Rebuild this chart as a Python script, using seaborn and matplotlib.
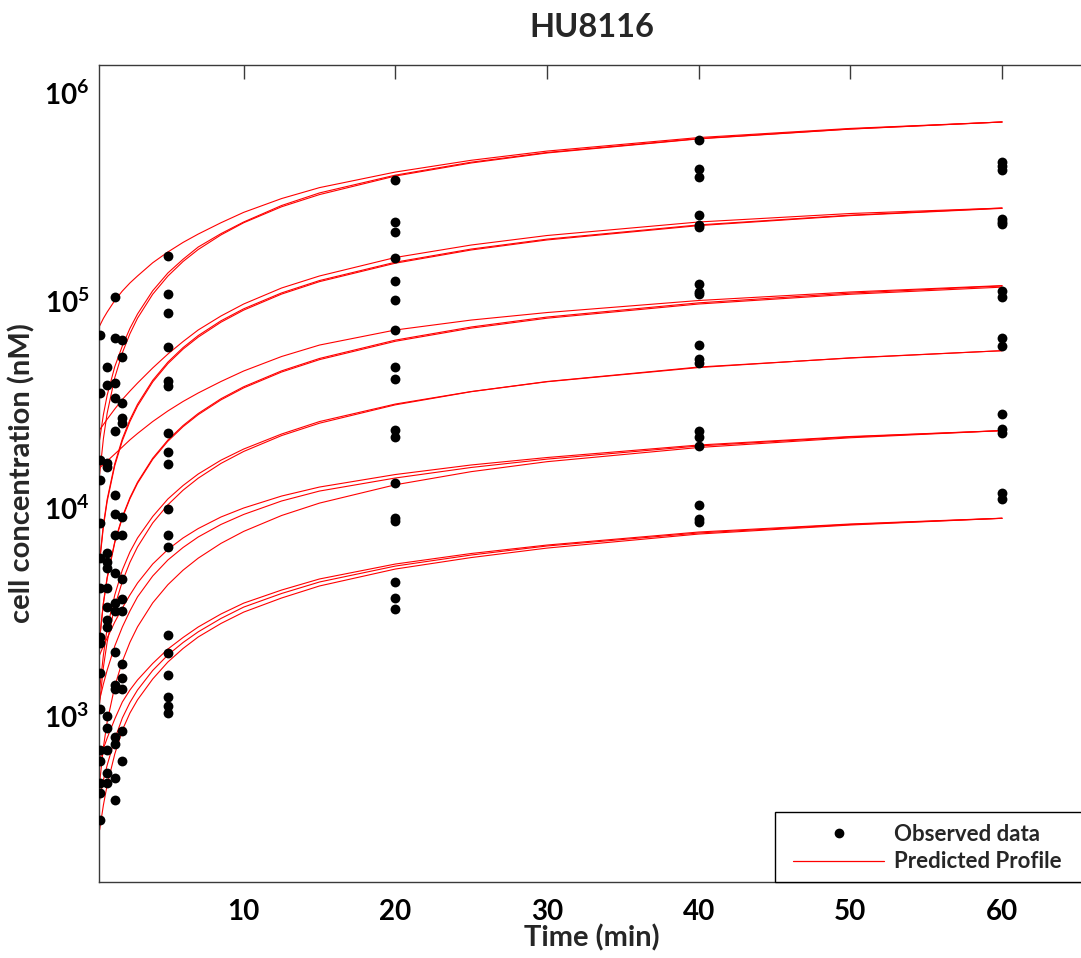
import matplotlib
matplotlib.use("Agg")
import matplotlib.pyplot as plt
import numpy as np
import pandas as pd
import seaborn as sns
from matplotlib.lines import Line2D
from matplotlib.patches import Rectangle
from matplotlib.ticker import FixedLocator, LogLocator, NullFormatter

sns.set_theme(style="white")
plt.rcParams['font.family'] = ['Lato', 'DejaVu Sans']
plt.rcParams['font.weight'] = 'bold'
plt.rcParams['mathtext.fontset'] = 'custom'
plt.rcParams['mathtext.rm'] = 'Lato:bold'
plt.rcParams['mathtext.it'] = 'Lato:bold'
plt.rcParams['mathtext.bf'] = 'Lato:bold'

# ---- observed concentrations (nM) at each sampling time (min) ----
obs_t0_5 = [6.82e4, 3.57e4, 1.70e4, 1.36e4, 8.44e3, 5.72e3, 4.10e3, 2.40e3,
            2.23e3, 1.61e3, 1.07e3, 682, 604, 471, 422, 314]
obs_t1 = [4.80e4, 3.91e4, 1.65e4, 1.57e4, 6.05e3, 5.51e3, 5.12e3, 4.10e3,
          3.34e3, 2.89e3, 2.66e3, 998, 868, 682, 526, 471]
obs_t1_5 = [1.036e5, 6.57e4, 4.02e4, 3.38e4, 2.36e4, 1.155e4, 9.36e3, 7.41e3,
            4.85e3, 3.50e3, 3.20e3, 2.03e3, 1.40e3, 1.34e3, 790, 729, 498, 392]
obs_t2 = [6.45e4, 5.32e4, 3.22e4, 2.71e4, 2.56e4, 9.02e3, 7.41e3, 4.55e3,
          3.64e3, 3.19e3, 1.765e3, 1.51e3, 1.34e3, 842, 604]
obs_t5 = [1.64e5, 1.075e5, 8.73e4, 5.95e4, 4.11e4, 3.89e4, 2.31e4, 1.855e4,
          1.63e4, 9.86e3, 7.44e3, 6.51e3, 2.43e3, 2.01e3, 1.57e3, 1.23e3,
          1.11e3, 1.025e3]
obs_t20 = [3.81e5, 2.40e5, 2.15e5, 1.61e5, 1.24e5, 1.006e5, 7.21e4, 4.80e4,
           4.17e4, 2.38e4, 2.19e4, 1.32e4, 8.92e3, 8.69e3, 4.42e3, 3.67e3,
           3.26e3]
obs_t40 = [5.94e5, 4.30e5, 3.93e5, 2.58e5, 2.30e5, 2.25e5, 1.20e5, 1.10e5,
           1.08e5, 6.10e4, 5.20e4, 5.00e4, 2.35e4, 2.20e4, 2.00e4, 1.03e4,
           8.90e3, 8.60e3]
obs_t60 = [4.65e5, 4.45e5, 4.25e5, 2.48e5, 2.40e5, 2.33e5, 1.11e5, 1.04e5,
           6.57e4, 6.04e4, 2.84e4, 2.39e4, 2.29e4, 1.18e4, 1.11e4]

observed = {0.5: obs_t0_5, 1: obs_t1, 1.5: obs_t1_5, 2: obs_t2,
            5: obs_t5, 20: obs_t20, 40: obs_t40, 60: obs_t60}

# ---- predicted profiles (nM) ----
profile_times = [0.5, 0.75, 1, 1.5, 2, 2.5, 3, 4, 5, 6, 7, 8.5, 10, 12.5,
                 15, 20, 25, 30, 40, 50, 60]

prof_a1 = [7.54e4, 8.2e4, 8.8e4, 1.0e5, 1.111e5, 1.215e5, 1.313e5, 1.52e5, 1.713e5, 1.905e5, 2.09e5,
           2.37e5, 2.66e5, 3.10e5, 3.50e5, 4.16e5, 4.74e5, 5.25e5, 6.10e5, 6.75e5, 7.25e5]
prof_a2 = [2.13e4, 2.82e4, 3.50e4, 4.80e4, 6.04e4, 7.34e4, 8.61e4, 1.114e5, 1.357e5, 1.58e5, 1.81e5,
           2.10e5, 2.39e5, 2.87e5, 3.30e5, 4.02e5, 4.64e5, 5.17e5, 6.03e5, 6.71e5, 7.25e5]
prof_a3 = [1.45e4, 2.16e4, 2.87e4, 4.25e4, 5.60e4, 6.92e4, 8.22e4, 1.072e5, 1.311e5, 1.541e5, 1.761e5,
           2.07e5, 2.37e5, 2.83e5, 3.24e5, 3.98e5, 4.60e5, 5.14e5, 6.01e5, 6.70e5, 7.25e5]
prof_b1 = [2.38e4, 2.525e4, 2.68e4, 3.00e4, 3.334e4, 3.66e4, 4.00e4, 4.73e4, 5.52e4, 6.34e4, 7.21e4,
           8.42e4, 9.62e4, 1.149e5, 1.313e5, 1.612e5, 1.851e5, 2.057e5, 2.39e5, 2.626e5, 2.79e5]
prof_b2 = [5.58e3, 8.32e3, 1.103e4, 1.636e4, 2.156e4, 2.665e4, 3.162e4, 4.124e4, 5.046e4, 5.929e4, 6.776e4,
           7.983e4, 9.121e4, 1.088e5, 1.248e5, 1.530e5, 1.770e5, 1.976e5, 2.314e5, 2.578e5, 2.79e5]
prof_b3 = [5.45e3, 8.13e3, 1.078e4, 1.60e4, 2.11e4, 2.61e4, 3.10e4, 4.05e4, 4.96e4, 5.83e4, 6.66e4,
           7.86e4, 8.99e4, 1.074e5, 1.233e5, 1.513e5, 1.752e5, 1.958e5, 2.296e5, 2.565e5, 2.78e5]
prof_c1 = [1.56e4, 1.62e4, 1.685e4, 1.82e4, 1.968e4, 2.13e4, 2.286e4, 2.61e4, 2.935e4, 3.261e4, 3.583e4,
           4.07e4, 4.574e4, 5.372e4, 6.10e4, 7.21e4, 8.05e4, 8.75e4, 1.0e5, 1.099e5, 1.18e5]
prof_c2 = [2.35e3, 3.50e3, 4.645e3, 6.888e3, 9.079e3, 1.122e4, 1.332e4, 1.737e4, 2.125e4, 2.497e4, 2.854e4,
           3.362e4, 3.841e4, 4.581e4, 5.257e4, 6.444e4, 7.453e4, 8.323e4, 9.744e4, 1.0856e5, 1.175e5]
prof_c3 = [2.32e3, 3.459e3, 4.585e3, 6.80e3, 8.963e3, 1.108e4, 1.315e4, 1.715e4, 2.098e4, 2.465e4, 2.817e4,
           3.319e4, 3.792e4, 4.523e4, 5.189e4, 6.361e4, 7.358e4, 8.217e4, 9.619e4, 1.0717e5, 1.16e5]
prof_d1 = [1.327e3, 1.957e3, 2.64e3, 3.81e3, 5.03e3, 6.14e3, 7.17e3, 9.10e3, 1.105e4, 1.283e4, 1.458e4,
           1.70e4, 1.924e4, 2.273e4, 2.61e4, 3.17e4, 3.642e4, 4.07e4, 4.78e4, 5.28e4, 5.73e4]
prof_d2 = [1.146e3, 1.709e3, 2.265e3, 3.359e3, 4.428e3, 5.473e3, 6.494e3, 8.471e3, 1.036e4, 1.218e4, 1.392e4,
           1.640e4, 1.873e4, 2.234e4, 2.563e4, 3.142e4, 3.635e4, 4.059e4, 4.752e4, 5.294e4, 5.73e4]
prof_e1 = [1.957e3, 2.162e3, 2.363e3, 2.822e3, 3.297e3, 3.81e3, 4.35e3, 5.37e3, 6.31e3, 7.17e3, 7.96e3,
           9.05e3, 1.0e4, 1.142e4, 1.262e4, 1.45e4, 1.612e4, 1.751e4, 2.012e4, 2.211e4, 2.36e4]
prof_e2 = [1.19e3, 1.418e3, 1.657e3, 2.162e3, 2.67e3, 3.19e3, 3.73e3, 4.70e3, 5.615e3, 6.45e3, 7.25e3,
           8.33e3, 9.31e3, 1.081e4, 1.207e4, 1.395e4, 1.568e4, 1.72e4, 1.99e4, 2.199e4, 2.36e4]
prof_e3 = [472, 704, 933, 1.383e3, 1.824e3, 2.254e3, 2.675e3, 3.489e3, 4.268e3, 5.015e3, 5.731e3,
           6.753e3, 7.715e3, 9.202e3, 1.056e4, 1.294e4, 1.497e4, 1.672e4, 1.957e4, 2.18e4, 2.36e4]
prof_f1 = [610, 693, 779, 962, 1.162e3, 1.327e3, 1.483e3, 1.781e3, 2.09e3, 2.376e3, 2.67e3,
           3.084e3, 3.48e3, 4.024e3, 4.55e3, 5.37e3, 6.036e3, 6.63e3, 7.66e3, 8.375e3, 8.93e3]
prof_f2 = [392, 489, 577, 770, 973, 1.155e3, 1.327e3, 1.648e3, 1.957e3, 2.247e3, 2.53e3,
           2.935e3, 3.33e3, 3.873e3, 4.40e3, 5.25e3, 5.935e3, 6.56e3, 7.58e3, 8.33e3, 8.92e3]
prof_f3 = [281, 370, 463, 652, 851, 1.028e3, 1.19e3, 1.499e3, 1.81e3, 2.103e3, 2.39e3,
           2.776e3, 3.15e3, 3.684e3, 4.21e3, 5.08e3, 5.77e3, 6.41e3, 7.49e3, 8.28e3, 8.92e3]

profiles = [prof_a1, prof_a2, prof_a3, prof_b1, prof_b2, prof_b3,
            prof_c1, prof_c2, prof_c3, prof_d1, prof_d2,
            prof_e1, prof_e2, prof_e3, prof_f1, prof_f2, prof_f3]

obs_df = pd.DataFrame([(t, v) for t, vals in observed.items() for v in vals],
                      columns=["time", "conc"])
prof_df = pd.DataFrame([(i, t, v) for i, p in enumerate(profiles)
                        for t, v in zip(profile_times, p)],
                       columns=["subject", "time", "conc"])

fig = plt.figure(figsize=(10.81, 9.58), dpi=100)
ax = fig.add_axes([99 / 1081, 1 - 882 / 958, (1084 - 99) / 1081, (882 - 65) / 958])

sns.lineplot(data=prof_df, x="time", y="conc", units="subject", estimator=None,
             color="red", linewidth=0.8, ax=ax, legend=False, sort=False)
sns.scatterplot(data=obs_df, x="time", y="conc", color="black", s=50,
                linewidth=0, ax=ax, legend=False, zorder=3)

ax.set_yscale("log")
ax.set_xlim(0.46, 65.4)
ax.set_ylim(157.6, 1.3645e6)

ax.xaxis.set_major_locator(FixedLocator([10, 20, 30, 40, 50, 60]))
ax.yaxis.set_major_locator(LogLocator(base=10, numticks=10))
ax.yaxis.set_minor_locator(LogLocator(base=10, subs=np.arange(2, 10), numticks=20))
ax.yaxis.set_minor_formatter(NullFormatter())

spine_col = "#3a3a3a"
for side, sp in ax.spines.items():
    sp.set_color(spine_col)
    sp.set_linewidth(1.0)
ax.spines["right"].set_visible(False)
ax.tick_params(axis="both", which="both", direction="in", colors=spine_col,
               top=True, right=False, labelcolor="black")
ax.tick_params(axis="both", which="major", length=10, width=1.0, labelsize=20)
ax.tick_params(axis="y", which="minor", length=5, width=0.9)
ax.tick_params(axis="x", which="major", pad=12)
ax.tick_params(axis="y", which="major", pad=7)
for lab in ax.get_xticklabels() + ax.get_yticklabels():
    lab.set_fontweight("bold")

ax.set_title("HU8116", fontsize=23.5, fontweight="bold", pad=20)
ax.set_xlabel("Time (min)", fontsize=21, fontweight="bold", labelpad=0)
ax.set_ylabel("cell concentration (nM)", fontsize=21, fontweight="bold", labelpad=6)

# legend: frame drawn as its own box, entries placed inside it
box_x0 = (775 - 99) / 985
box_h = 70 / 817
ax.add_patch(Rectangle((box_x0, 0.0), 1.0 - box_x0, box_h, transform=ax.transAxes,
                       facecolor="white", edgecolor="black", linewidth=1.0,
                       zorder=5, clip_on=False))
handles = [Line2D([], [], linestyle="none", marker="o", color="black", markersize=6),
           Line2D([], [], color="red", linewidth=0.9)]
leg = ax.legend(handles, ["Observed data", "Predicted Profile"],
                loc="center left", bbox_to_anchor=((793 - 99) / 985, 34 / 817),
                borderaxespad=0, borderpad=0, frameon=False,
                handlelength=4.1, handletextpad=0.45,
                labelspacing=0.3, prop={"weight": "bold", "size": 16})
leg.set_zorder(6)

fig.savefig("out.png", dpi=100, facecolor="white")
